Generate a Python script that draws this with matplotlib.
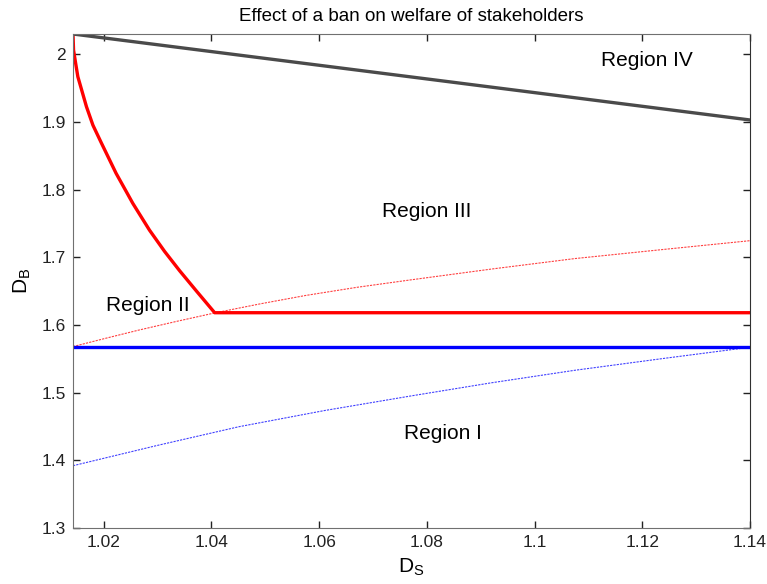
import matplotlib
matplotlib.use("Agg")
import matplotlib.pyplot as plt

plt.rcParams['font.family'] = ['Liberation Sans', 'DejaVu Sans']
plt.rcParams['mathtext.fontset'] = 'custom'
plt.rcParams['mathtext.rm'] = 'Liberation Sans'

# data
x_min, x_max = 1.0143, 1.14
y_min, y_max = 1.3, 2.0297

grey_x = [1.0143, 1.14]
grey_y = [2.0297, 1.9027]

red_curve_x = [1.0143, 1.0144, 1.0148, 1.0152, 1.0168, 1.0180, 1.0196, 1.0211, 1.0223,
               1.0242, 1.0254, 1.0285, 1.0313, 1.0341, 1.0372, 1.0406, 1.14]
red_curve_y = [2.0297, 2.006, 1.986, 1.9666, 1.9223, 1.895, 1.8682, 1.8436, 1.8239,
               1.7968, 1.7796, 1.740, 1.7086, 1.680, 1.6502, 1.618, 1.618]

red_thin_x = [1.0143, 1.0205, 1.0266, 1.0337, 1.0408, 1.049, 1.0575, 1.067, 1.077,
              1.092, 1.1075, 1.124, 1.14]
red_thin_y = [1.568, 1.5805, 1.5925, 1.6055, 1.618, 1.631, 1.6435, 1.6555, 1.6665,
              1.6825, 1.698, 1.7115, 1.7244]

blue_x = [1.0143, 1.14]
blue_y = [1.567, 1.567]

blue_thin_x = [1.0143, 1.0297, 1.0451, 1.061, 1.077, 1.092, 1.1075, 1.124, 1.14]
blue_thin_y = [1.392, 1.4215, 1.4496, 1.4735, 1.495, 1.5145, 1.533, 1.5505, 1.567]

regions = ["Region IV", "Region III", "Region II", "Region I"]
region_x = [1.1208, 1.080, 1.0282, 1.083]
region_y = [1.991, 1.767, 1.629, 1.440]

x_ticks = [1.02, 1.04, 1.06, 1.08, 1.1, 1.12, 1.14]
x_labels = ["1.02", "1.04", "1.06", "1.08", "1.1", "1.12", "1.14"]
y_ticks = [1.3, 1.4, 1.5, 1.6, 1.7, 1.8, 1.9, 2.0]
y_labels = ["1.3", "1.4", "1.5", "1.6", "1.7", "1.8", "1.9", "2"]

fig = plt.figure(figsize=(7.67, 5.84), dpi=100)
ax = fig.add_axes([73/767, 1 - 528/584, (750 - 73)/767, (528 - 34)/584])

ax.plot(red_thin_x, red_thin_y, color='red', lw=0.8, ls=(0, (2, 1)), alpha=0.75)
ax.plot(blue_thin_x, blue_thin_y, color='blue', lw=0.8, ls=(0, (2, 1)), alpha=0.75)
ax.plot(blue_x, blue_y, color='blue', lw=2.4)
ax.plot(red_curve_x, red_curve_y, color='red', lw=2.4, solid_joinstyle='round')
ax.plot(grey_x, grey_y, color='#4a4a4a', lw=2.4)

for name, rx, ry in zip(regions, region_x, region_y):
    ax.text(rx, ry, name, fontsize=15, ha='center', va='center')

ax.set_xlim(x_min, x_max)
ax.set_ylim(y_min, y_max)
ax.set_xticks(x_ticks)
ax.set_xticklabels(x_labels)
ax.set_yticks(y_ticks)
ax.set_yticklabels(y_labels)
ax.tick_params(direction='in', top=True, right=True, length=5, width=1,
               labelsize=12.5, colors='#222222', pad=5)
for side in ['left', 'bottom', 'top']:
    ax.spines[side].set_color('#707070')
ax.spines['right'].set_color('#303030')

ax.set_title("Effect of a ban on welfare of stakeholders", fontsize=13.5, pad=9)
ax.set_xlabel(r"$\mathregular{D_S}$", fontsize=15, labelpad=5)
ax.set_ylabel(r"$\mathregular{D_B}$", fontsize=15, labelpad=6)

fig.savefig("out.png", dpi=100)
